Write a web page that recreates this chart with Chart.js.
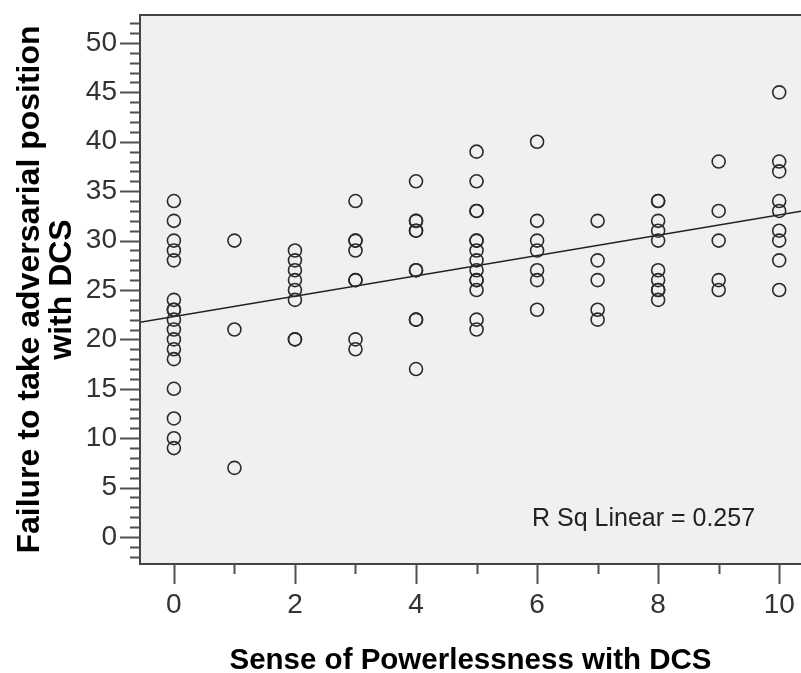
<!DOCTYPE html>
<html>
<head>
<meta charset="utf-8">
<script src="https://cdn.jsdelivr.net/npm/chart.js@4.4.1/dist/chart.umd.min.js"></script>
<style>
  html, body { margin: 0; padding: 0; background: #fff; }
</style>
</head>
<body>
<canvas id="grafico" width="801" height="673"></canvas>
<script>
// Dados: nível de impotência (x) e escores de falha (y) em cada nível
const niveis = [0, 1, 2, 3, 4, 5, 6, 7, 8, 9, 10];
const escores = [
    [34, 32, 30, 29, 28, 24, 23, 23, 22, 21, 20, 19, 18, 15, 12, 10, 9],
    [30, 21, 7],
    [29, 28, 27, 26, 25, 24, 20, 20],
    [34, 30, 30, 29, 26, 26, 20, 19],
    [36, 32, 32, 31, 31, 27, 27, 22, 22, 17],
    [39, 36, 33, 33, 30, 30, 29, 28, 27, 26, 26, 25, 22, 21],
    [40, 32, 30, 29, 27, 26, 23],
    [32, 28, 26, 23, 22],
    [34, 34, 32, 31, 30, 27, 26, 25, 25, 24],
    [38, 33, 30, 26, 25],
    [45, 38, 37, 34, 33, 31, 30, 28, 25]
];
const rotulosY = [0, 5, 10, 15, 20, 25, 30, 35, 40, 45, 50];
const rotulosX = [0, 2, 4, 6, 8, 10];

// Reta de regressão linear
const intercepto = 22.3;
const inclinacao = 1.03;
const rQuadrado = 0.257;

const limitesX = { min: -0.56, max: 10.36 };
const limitesY = { min: -2.73, max: 52.83 };

const pontos = [];
niveis.forEach((n, i) => {
    escores[i].forEach(v => pontos.push({ x: n, y: v }));
});

const reta = [limitesX.min, limitesX.max].map(x => ({ x: x, y: intercepto + inclinacao * x }));

const fonte = "'Liberation Sans', Arial, sans-serif";

// Sem folga extra nas bordas: a área do gráfico fica fixa
function semFolga(s) {
    s.paddingTop = 0;
    s.paddingBottom = 0;
    s.paddingLeft = 0;
    s.paddingRight = 0;
}

// Fundo cinza, moldura, marcas dos eixos e o texto do R²
const moldura = {
    id: "moldura",
    beforeDraw(chart) {
        const { ctx, chartArea: a } = chart;
        ctx.save();
        ctx.fillStyle = "#f0f0f0";
        ctx.fillRect(a.left, a.top, a.right - a.left, a.bottom - a.top);
        ctx.restore();
    },
    afterDraw(chart) {
        const { ctx, chartArea: a, scales } = chart;
        ctx.save();
        ctx.strokeStyle = "#444";
        ctx.lineWidth = 2;
        ctx.beginPath();
        ctx.moveTo(a.right + 2, a.top);
        ctx.lineTo(a.left, a.top);
        ctx.lineTo(a.left, a.bottom);
        ctx.lineTo(a.right + 2, a.bottom);
        ctx.stroke();

        ctx.strokeStyle = "#505050";
        ctx.beginPath();
        scales.y.ticks.forEach(t => {
            const y = Math.round(scales.y.getPixelForValue(t.value)) + 0.5;
            const len = t.value % 5 === 0 ? 20 : 10;
            ctx.moveTo(a.left - len, y);
            ctx.lineTo(a.left, y);
        });
        scales.x.ticks.forEach(t => {
            const x = Math.round(scales.x.getPixelForValue(t.value)) + 0.5;
            const len = t.value % 2 === 0 ? 20 : 10;
            ctx.moveTo(x, a.bottom);
            ctx.lineTo(x, a.bottom + len);
        });
        ctx.stroke();

        ctx.fillStyle = "#222";
        ctx.font = "25px " + fonte;
        ctx.textAlign = "left";
        ctx.textBaseline = "middle";
        ctx.fillText("R Sq Linear = " + rQuadrado.toFixed(3), a.right - 269, a.bottom - 45);
        ctx.restore();
    }
};

new Chart(document.getElementById("grafico"), {
    type: "scatter",
    data: {
        datasets: [
            {
                data: pontos,
                pointStyle: "circle",
                pointRadius: 6.5,
                pointBorderWidth: 1.6,
                borderColor: "#2a2a2a",
                backgroundColor: "rgba(0,0,0,0)"
            },
            {
                type: "line",
                data: reta,
                borderColor: "#222",
                borderWidth: 1.5,
                pointRadius: 0,
                fill: false
            }
        ]
    },
    options: {
        responsive: false,
        animation: false,
        events: [],
        layout: { autoPadding: false, padding: { top: 15, left: 0, right: 0, bottom: 0 } },
        plugins: { legend: { display: false }, tooltip: { enabled: false } },
        scales: {
            x: {
                type: "linear",
                min: limitesX.min,
                max: limitesX.max,
                grid: { display: false, drawTicks: false },
                border: { display: false },
                afterFit: s => { s.height = 109; semFolga(s); },
                afterBuildTicks: s => {
                    s.ticks = niveis.map(v => ({ value: v }));
                },
                ticks: {
                    autoSkip: false,
                    maxRotation: 0,
                    padding: 24,
                    color: "#333",
                    font: { family: fonte, size: 28 },
                    callback: v => rotulosX.includes(v) ? String(v) : ""
                },
                title: {
                    display: true,
                    text: "Sense of Powerlessness with DCS",
                    color: "#000",
                    padding: { top: 0, bottom: 0 },
                    font: { family: fonte, size: 29.5, weight: "bold", lineHeight: "24px" }
                }
            },
            y: {
                type: "linear",
                min: limitesY.min,
                max: limitesY.max,
                grid: { display: false, drawTicks: false },
                border: { display: false },
                afterFit: s => { s.width = 140; semFolga(s); },
                afterBuildTicks: s => {
                    const marcas = [];
                    for (let v = -2; v <= 52; v++) marcas.push({ value: v });
                    s.ticks = marcas;
                },
                ticks: {
                    autoSkip: false,
                    padding: 23,
                    color: "#333",
                    font: { family: fonte, size: 28 },
                    callback: v => rotulosY.includes(v) ? String(v) : ""
                },
                title: {
                    display: true,
                    text: ["Failure to take adversarial position", "with DCS"],
                    color: "#000",
                    padding: { top: 14, bottom: 0 },
                    font: { family: fonte, size: 32, weight: "bold", lineHeight: "32px" }
                }
            }
        }
    },
    plugins: [moldura]
});
</script>
</body>
</html>
